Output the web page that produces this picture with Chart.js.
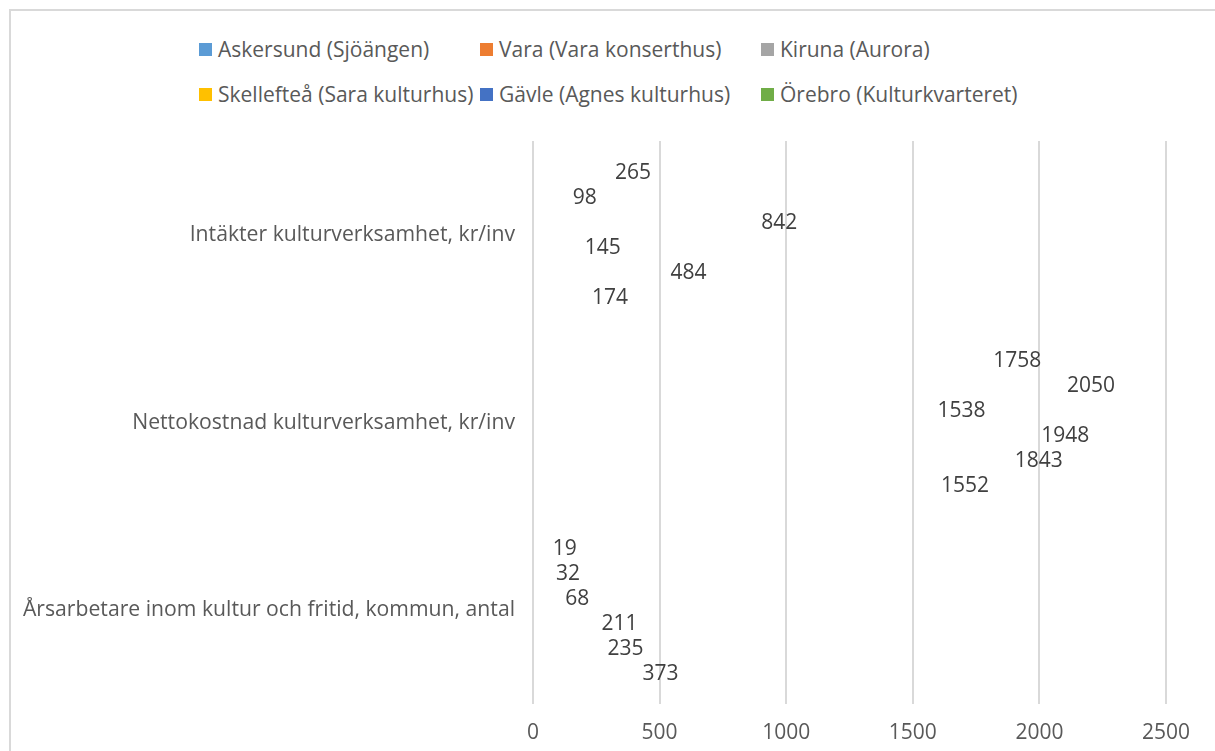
<!DOCTYPE html>
<html lang="sv">

<head>
    <meta charset="UTF-8">
    <title>Kulturhus – jämförelse</title>
    <script src="https://cdn.jsdelivr.net/npm/chart.js"></script>
    <style>
        body {
            margin: 0;
            background: #fff;
            font-family: "Open Sans", sans-serif;
            overflow: hidden;
        }

        #ram {
            position: absolute;
            left: 9px;
            top: 9px;
            width: 2000px;
            height: 2000px;
            border-left: 2px solid #d9d9d9;
            border-top: 2px solid #d9d9d9;
            pointer-events: none;
        }

        #legend {
            position: absolute;
            left: 0;
            top: 0;
        }

        .post {
            position: absolute;
            display: flex;
            align-items: center;
            height: 30px;
            font-size: 21px;
            color: #595959;
            white-space: nowrap;
        }

        .post span.ruta {
            display: inline-block;
            width: 13px;
            height: 13px;
            margin-right: 6px;
        }

        canvas {
            position: absolute;
            left: 0;
            top: 0;
        }
    </style>
</head>

<body>
    <div id="ram"></div>
    <div id="legend"></div>
    <canvas id="myChartCanvas" width="1215" height="751"></canvas>

    <script>
        // kategorier uppifrån och ned
        const kategorier = [
            'Intäkter kulturverksamhet, kr/inv',
            'Nettokostnad kulturverksamhet, kr/inv',
            'Årsarbetare inom kultur och fritid, kommun, antal'
        ];

        const serienamn = [
            'Askersund (Sjöängen)',
            'Vara (Vara konserthus)',
            'Kiruna (Aurora)',
            'Skellefteå (Sara kulturhus)',
            'Gävle (Agnes kulturhus)',
            'Örebro (Kulturkvarteret)'
        ];
        const farger = ['#5b9bd5', '#ed7d31', '#a5a5a5', '#ffc000', '#4472c4', '#70ad47'];

        const askersund = [174, 1552, 373];
        const vara = [484, 1843, 235];
        const kiruna = [145, 1948, 211];
        const skelleftea = [842, 1538, 68];
        const gavle = [98, 2050, 32];
        const orebro = [265, 1758, 19];

        const xTicks = [0, 500, 1000, 1500, 2000, 2500];

        const serier = [askersund, vara, kiruna, skelleftea, gavle, orebro];

        // legenden, tre per rad som i originalet
        const kolumner = [199, 480, 761];
        const rader = [49, 94];
        serienamn.forEach((namn, i) => {
            const div = document.createElement('div');
            div.className = 'post';
            div.style.left = kolumner[i % 3] + 'px';
            div.style.top = (rader[Math.floor(i / 3)] - 15) + 'px';
            div.innerHTML = `<span class="ruta" style="background:${farger[i]}"></span>${namn}`;
            document.getElementById('legend').appendChild(div);
        });

        // i Excel ligger serie 1 längst ned i gruppen, därför omvänd ordning här
        const dataset = [];
        for (let i = serier.length - 1; i >= 0; i--) {
            dataset.push({
                label: serienamn[i],
                data: serier[i],
                backgroundColor: 'rgba(0,0,0,0)',
                borderWidth: 0
            });
        }

        // värdena skrivs ut efter stapelns slut
        const etiketter = {
            id: 'etiketter',
            afterDatasetsDraw(chart) {
                const ctx = chart.ctx;
                ctx.save();
                ctx.font = '21px "Open Sans"';
                ctx.fillStyle = '#404040';
                ctx.textAlign = 'left';
                ctx.textBaseline = 'middle';
                chart.data.datasets.forEach((ds, i) => {
                    chart.getDatasetMeta(i).data.forEach((bar, j) => {
                        ctx.fillText(ds.data[j], bar.x + 15, bar.y + 1);
                    });
                });
                ctx.restore();
            }
        };

        const config = {
            type: 'bar',
            data: {
                labels: kategorier,
                datasets: dataset
            },
            options: {
                indexAxis: 'y',
                responsive: false,
                animation: false,
                categoryPercentage: 0.8,
                barPercentage: 1,
                layout: {
                    padding: { top: 141, right: 49, left: 0, bottom: 0 }
                },
                plugins: {
                    legend: { display: false },
                    tooltip: { enabled: false }
                },
                scales: {
                    x: {
                        min: 0,
                        max: 2500,
                        afterBuildTicks: (scale) => {
                            scale.ticks = xTicks.map(v => ({ value: v }));
                        },
                        afterFit: (scale) => { scale.height = 47; },
                        grid: {
                            color: '#d9d9d9',
                            lineWidth: 2,
                            drawTicks: false
                        },
                        border: { display: false },
                        ticks: {
                            padding: 16,
                            color: '#595959',
                            font: { family: 'Open Sans', size: 21 },
                            callback: (v) => String(v)
                        }
                    },
                    y: {
                        afterFit: (scale) => { scale.width = 533; },
                        grid: { display: false, drawTicks: false },
                        border: { display: false },
                        ticks: {
                            padding: 18,
                            color: '#595959',
                            font: { family: 'Open Sans', size: 21.2 }
                        }
                    }
                }
            },
            plugins: [etiketter]
        };

        let myChart = new Chart(
            document.getElementById('myChartCanvas'),
            config
        );
    </script>

</body>

</html>
